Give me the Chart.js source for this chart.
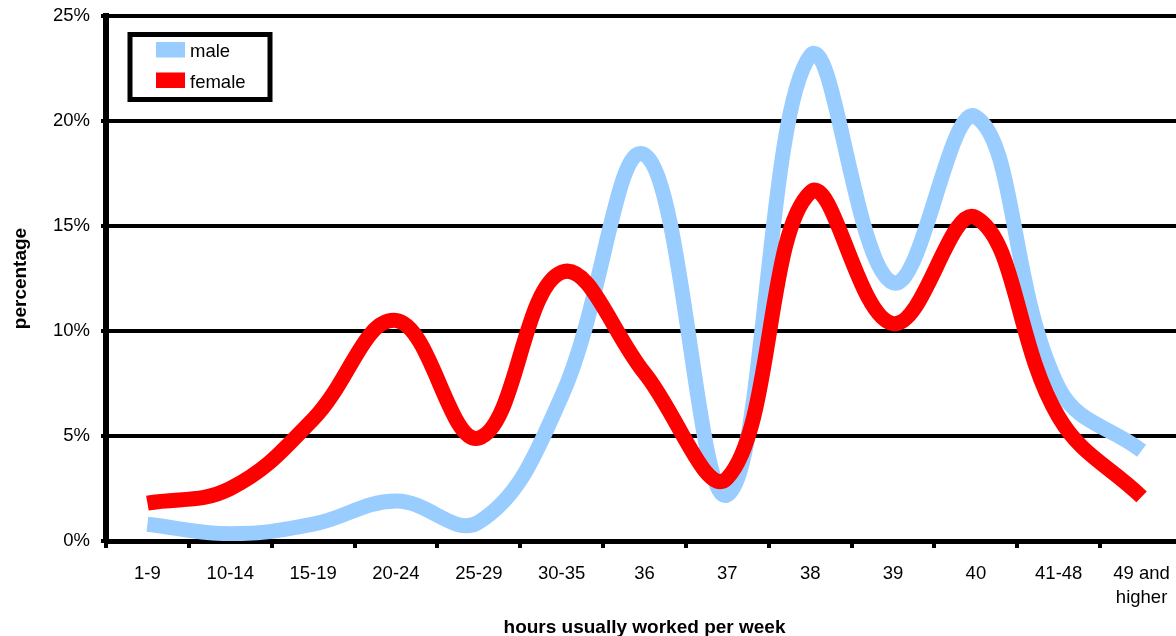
<!DOCTYPE html>
<html>
<head>
<meta charset="utf-8">
<script src="https://cdn.jsdelivr.net/npm/chart.js@4/dist/chart.umd.min.js"></script>
<style>
  html, body { margin: 0; padding: 0; background: #fff; overflow: hidden; }
  #wrap { position: absolute; left: 0; top: 0; width: 1183px; height: 636px; }
</style>
</head>
<body>
<div id="wrap"><canvas id="c" width="1183" height="636"></canvas></div>
<script>
// Hours usually worked per week, share of workers by sex
const categories = ['1-9', '10-14', '15-19', '20-24', '25-29', '30-35', '36', '37', '38', '39', '40', '41-48', ['49 and', 'higher']];
const male   = [0.8, 0.35, 0.8, 1.9, 0.9, 6.9, 18.4, 2.2, 23.1, 12.3, 20.2, 7.3, 4.3];
const female = [1.8, 2.5, 5.8, 10.5, 4.9, 12.8, 8.0, 3.0, 16.6, 10.35, 15.4, 5.9, 2.1];
const yTicks = [0, 5, 10, 15, 20, 25];

const FONT = '"Liberation Sans", Arial, sans-serif';

// Boxed legend placed inside the plot, upper left
const boxLegend = {
  id: 'boxLegend',
  afterDatasetsDraw(chart) {
    const ctx = chart.ctx;
    ctx.save();
    ctx.fillStyle = '#fff';
    ctx.fillRect(130, 34, 140, 65);
    ctx.lineWidth = 5;
    ctx.strokeStyle = '#000';
    ctx.strokeRect(130, 34.5, 140, 65);
    ctx.font = '18.5px ' + FONT;
    ctx.textBaseline = 'alphabetic';
    ctx.textAlign = 'left';
    const order = [0, 1];
    order.forEach((di, k) => {
      const ds = chart.data.datasets[di];
      const y = 42 + k * 30.5;
      ctx.fillStyle = ds.borderColor;
      ctx.fillRect(156, y, 29, 15.5);
      ctx.fillStyle = '#000';
      ctx.fillText(ds.label, 190, y + 15);
    });
    ctx.restore();
  }
};

new Chart(document.getElementById('c'), {
  type: 'line',
  data: {
    labels: categories,
    datasets: [
      { label: 'male', data: male, borderColor: '#99CCFF', backgroundColor: '#99CCFF',
        borderWidth: 15, pointRadius: 0, tension: 0.4, fill: false, order: 1,
        borderCapStyle: 'butt', borderJoinStyle: 'round' },
      { label: 'female', data: female, borderColor: '#FF0000', backgroundColor: '#FF0000',
        borderWidth: 15, pointRadius: 0, tension: 0.4, fill: false, order: 0,
        borderCapStyle: 'butt', borderJoinStyle: 'round' }
    ]
  },
  options: {
    responsive: false,
    animation: false,
    layout: { padding: { top: 16, right: 0, left: 0, bottom: 0 } },
    plugins: {
      legend: { display: false },
      tooltip: { enabled: false }
    },
    scales: {
      x: {
        type: 'category',
        offset: true,
        afterFit(s) { s.height = 95; s.paddingLeft = 0; s.paddingRight = 0; },
        grid: { display: true, drawOnChartArea: false, drawTicks: true, offset: true,
                tickLength: 7, tickWidth: 4, color: '#000', lineWidth: 4 },
        border: { display: true, color: '#000', width: 5 },
        ticks: { color: '#000', padding: 14, maxRotation: 0, autoSkip: false,
                 font: { family: FONT, size: 18.5, lineHeight: 1.3 } },
        title: { display: true, text: 'hours usually worked per week', color: '#000',
                 font: { family: FONT, size: 19, weight: 'bold', lineHeight: 0.9 },
                 padding: { top: 0, bottom: 0 } }
      },
      y: {
        min: 0, max: 25,
        afterFit(s) { s.width = 106; s.paddingTop = 0; s.paddingBottom = 0; },
        afterBuildTicks(s) { s.ticks = yTicks.map(v => ({ value: v })); },
        grid: { color: '#000', lineWidth: 4, tickLength: 5, drawTicks: true },
        border: { display: true, color: '#000', width: 6 },
        ticks: { color: '#000', padding: 11, callback: v => v + '%',
                 font: { family: FONT, size: 18.5 } },
        title: { display: true, text: 'percentage', color: '#000',
                 font: { family: FONT, size: 19, weight: 'bold' },
                 padding: { top: 9, bottom: 0 } }
      }
    }
  },
  plugins: [boxLegend]
});
</script>
</body>
</html>
